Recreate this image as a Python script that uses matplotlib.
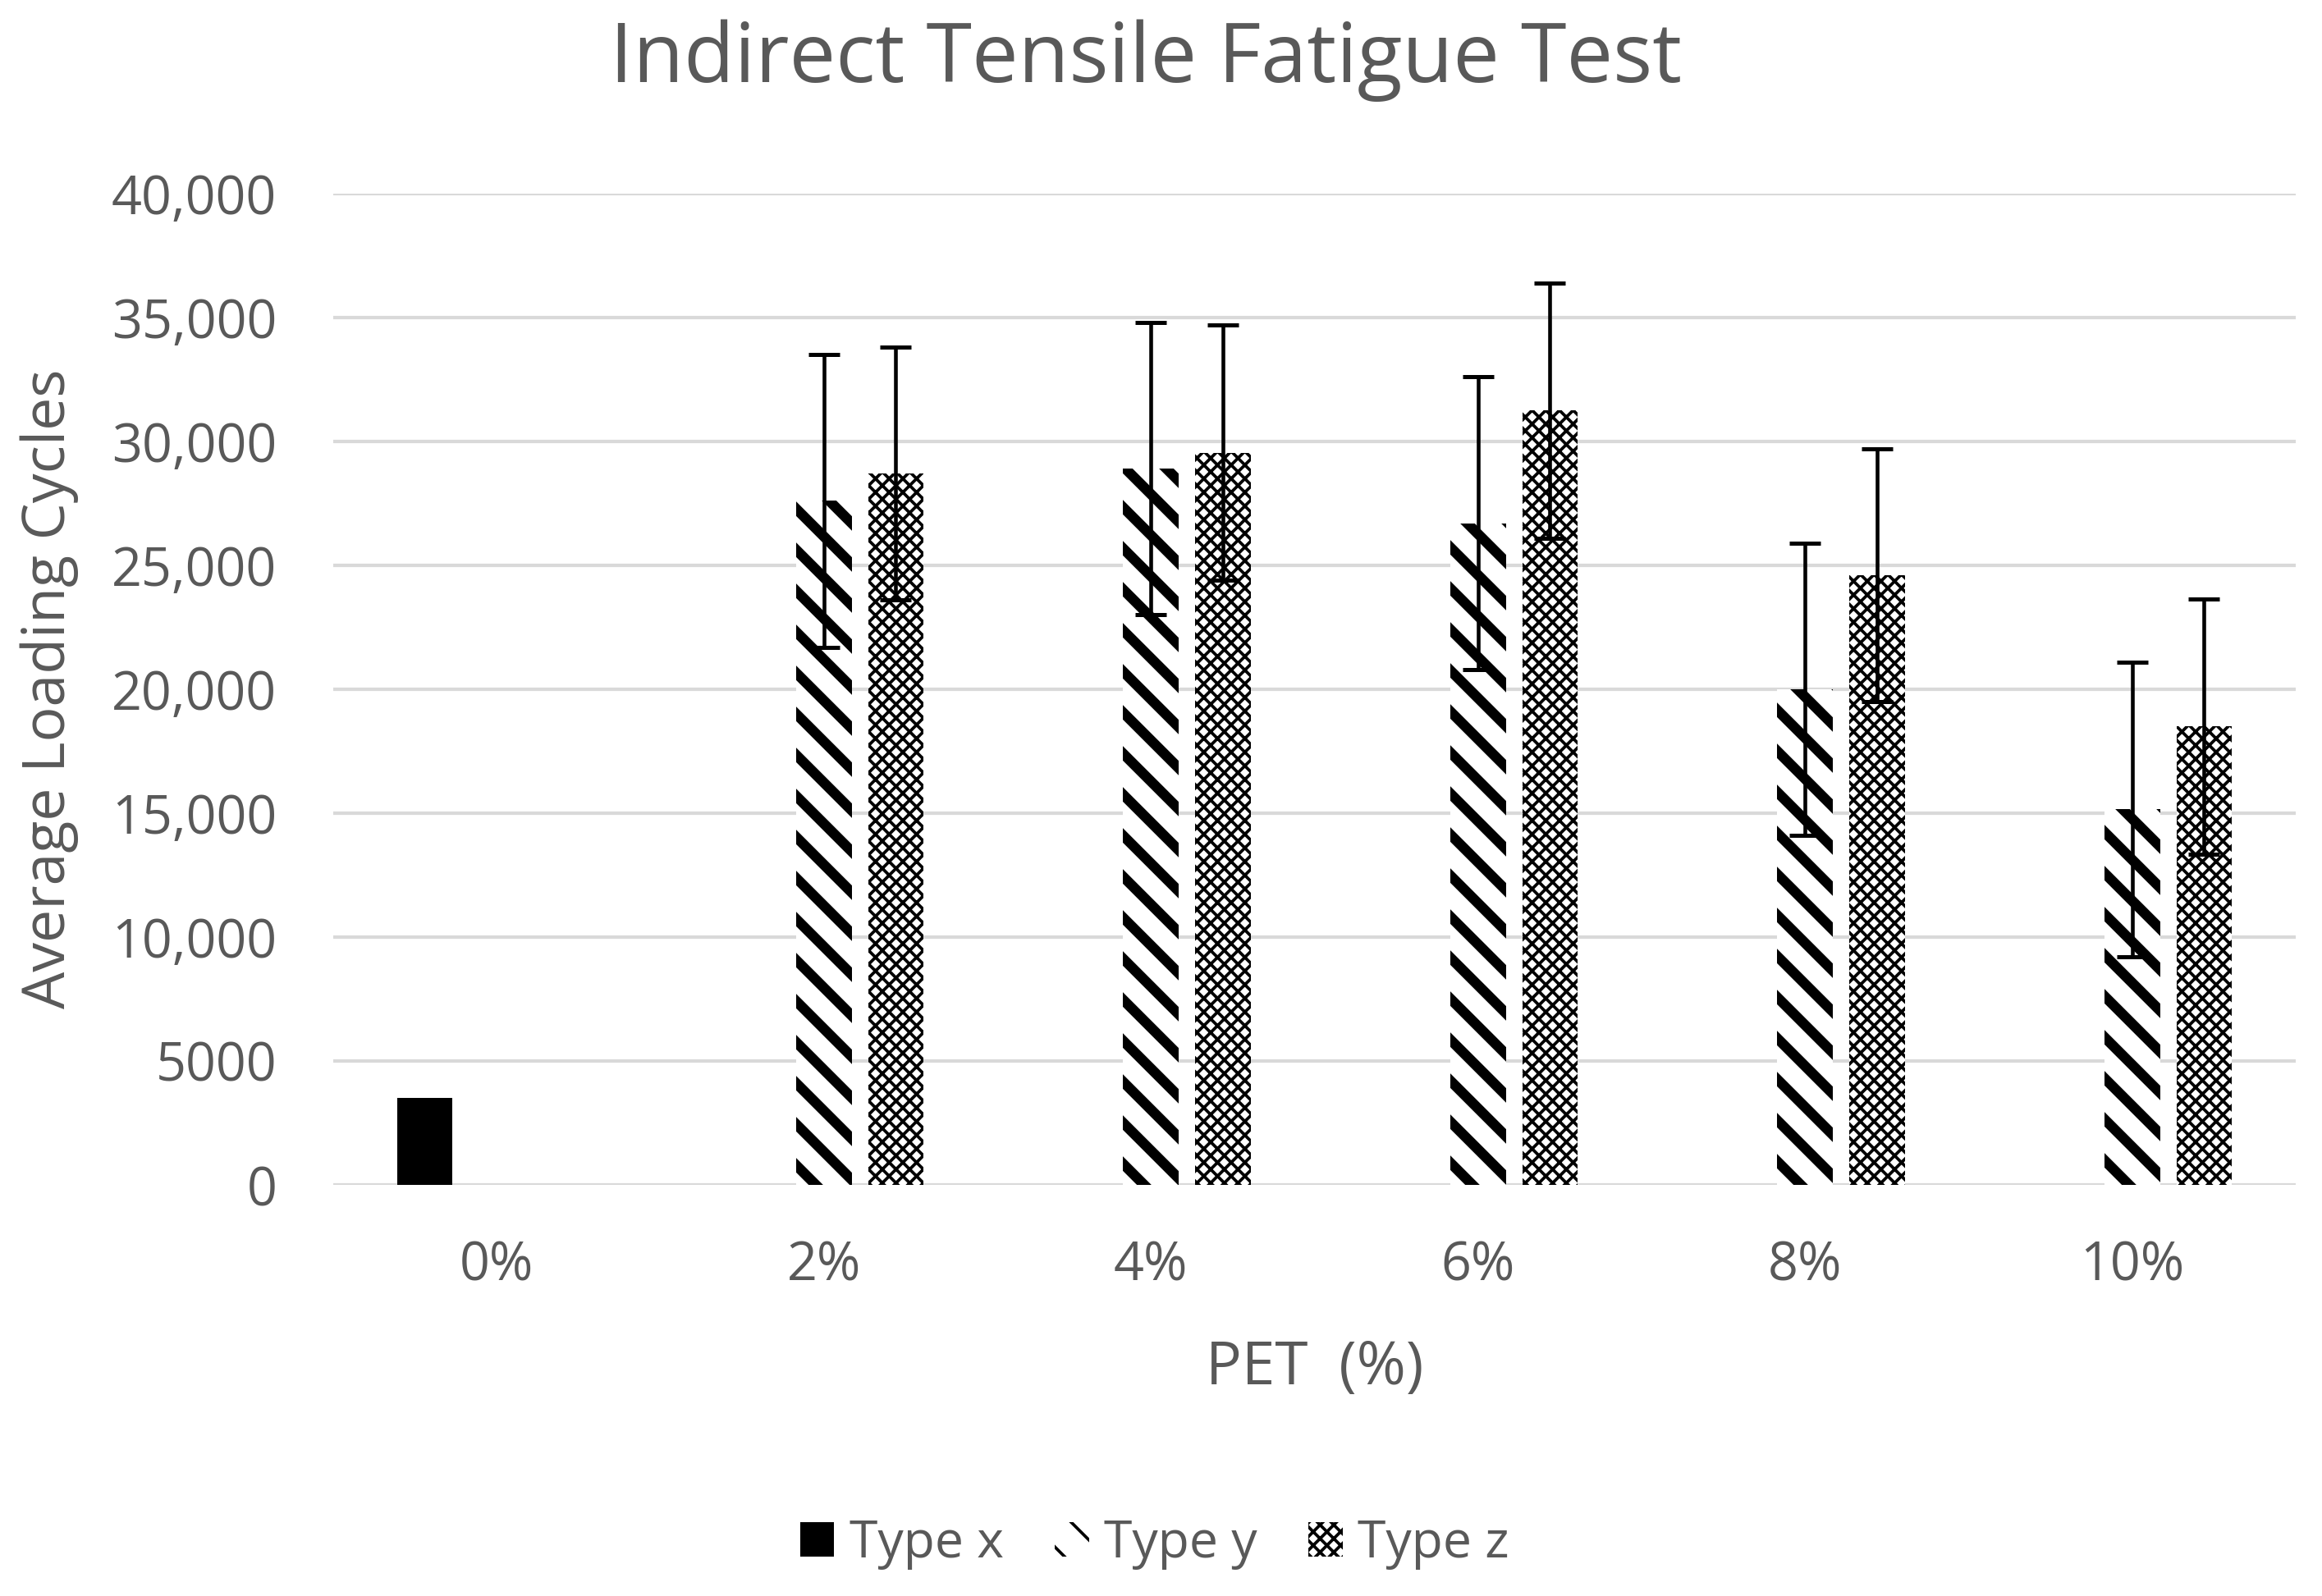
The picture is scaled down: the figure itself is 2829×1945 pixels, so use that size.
import numpy as np
import matplotlib
matplotlib.use("Agg")
import matplotlib.pyplot as plt
from matplotlib.patches import Patch

plt.rcParams['font.family'] = ['Open Sans', 'DejaVu Sans']

# ---- data ----
categories = ['0%', '2%', '4%', '6%', '8%', '10%']
type_x = [3500, None, None, None, None, None]
type_y = [None, 27600, 28900, 26700, 20000, 15150]
type_y_err = [None, 5900, 5900, 5900, 5900, 5950]
type_z = [None, 28700, 29550, 31250, 24600, 18500]
type_z_err = [None, 5100, 5150, 5150, 5100, 5150]
series_names = ['Type x', 'Type y', 'Type z']
y_ticks = [0, 5000, 10000, 15000, 20000, 25000, 30000, 35000, 40000]
y_tick_labels = ['0', '5000', '10,000', '15,000', '20,000', '25,000', '30,000', '35,000', '40,000']

TEXT = '#595959'
GRID = '#d9d9d9'
DPI = 300
HATCH_Y = '\\\\'
HATCH_Z = 'xxxxxx'
LW_Y = 3.0
LW_Z = 0.9

fig = plt.figure(figsize=(2829 / DPI, 1945 / DPI), dpi=DPI)
ax = fig.add_axes([406 / 2829, 1 - 1444 / 1945, (2797 - 406) / 2829, (1444 - 236) / 1945])

x = np.arange(len(categories))
width = 0.17
offsets = [-0.22, 0.0, 0.22]


def valid(vals, errs=None):
    idx = [i for i, v in enumerate(vals) if v is not None]
    v = [vals[i] for i in idx]
    e = [errs[i] for i in idx] if errs is not None else None
    return np.array(idx), v, e


def set_hlw(patches, lw):
    for b in patches:
        try:
            b.set_hatch_linewidth(lw)
        except AttributeError:
            pass


err_kw = dict(ecolor='black', elinewidth=1.1, capsize=4.6, capthick=1.2)

# Type x: solid black
ix, vx, _ = valid(type_x)
ax.bar(x[ix] + offsets[0], vx, width, color='black', linewidth=0, zorder=2)

# Type y: thick diagonal stripes
plt.rcParams['hatch.linewidth'] = LW_Y
iy, vy, ey = valid(type_y, type_y_err)
bars_y = ax.bar(x[iy] + offsets[1], vy, width, facecolor='white', edgecolor='black',
                hatch=HATCH_Y, linewidth=0, zorder=2)
set_hlw(bars_y, LW_Y)
ax.errorbar(x[iy] + offsets[1], vy, yerr=ey, fmt='none', zorder=3, **err_kw)

# Type z: fine checker
plt.rcParams['hatch.linewidth'] = LW_Z
iz, vz, ez = valid(type_z, type_z_err)
bars_z = ax.bar(x[iz] + offsets[2], vz, width, facecolor='white', edgecolor='black',
                hatch=HATCH_Z, linewidth=0, zorder=2)
set_hlw(bars_z, LW_Z)
ax.errorbar(x[iz] + offsets[2], vz, yerr=ez, fmt='none', zorder=3, **err_kw)

# ---- axes styling ----
ax.set_xlim(-0.5, len(categories) - 0.5)
ax.set_ylim(0, 40000)
ax.set_yticks(y_ticks)
ax.set_yticklabels(y_tick_labels)
ax.set_xticks(x)
ax.set_xticklabels(categories)
ax.yaxis.grid(True, color=GRID, linewidth=1.0)
ax.set_axisbelow(True)
for s in ax.spines.values():
    s.set_visible(False)
ax.tick_params(axis='both', length=0, labelsize=15.5, labelcolor=TEXT)
ax.tick_params(axis='y', pad=16.5)
ax.tick_params(axis='x', pad=16)

ax.set_xlabel('PET  (%)', fontsize=17.5, color=TEXT, labelpad=13)
fig.text(60 / 2829, 1 - 839 / 1945, 'Average Loading Cycles', rotation=90,
         fontsize=17.2, color=TEXT, ha='center', va='center')

fig.text(1396 / 2829, 1 - 100 / 1945, 'Indirect Tensile Fatigue Test',
         fontsize=24.2, color=TEXT, ha='center', va='baseline')

# legend
plt.rcParams['hatch.linewidth'] = LW_Y
h_x = Patch(facecolor='black', linewidth=0, label=series_names[0])
h_y = Patch(facecolor='white', edgecolor='black', hatch=HATCH_Y, linewidth=0, label=series_names[1])
set_hlw([h_y], LW_Y)
plt.rcParams['hatch.linewidth'] = LW_Z
h_z = Patch(facecolor='white', edgecolor='black', hatch=HATCH_Z, linewidth=0, label=series_names[2])
set_hlw([h_z], LW_Z)
leg = fig.legend(handles=[h_x, h_y, h_z], loc='center', ncol=3, frameon=False,
                 bbox_to_anchor=(1407 / 2829, 1 - 1882 / 1945), fontsize=15,
                 handlelength=0.66, handleheight=0.66, handletextpad=0.3,
                 columnspacing=1.0, labelcolor=TEXT)

fig.savefig('out.png', dpi=DPI, facecolor='white')
